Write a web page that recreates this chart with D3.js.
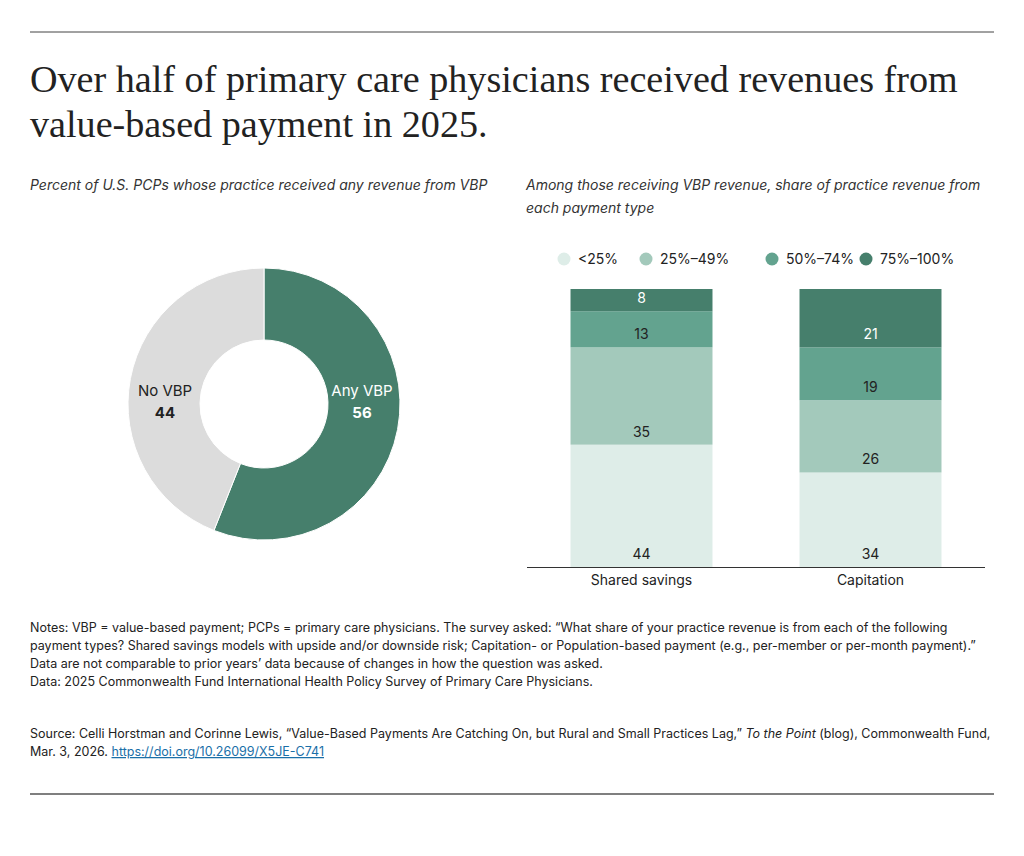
<!DOCTYPE html><html><head><meta charset="utf-8">
<script src="https://cdn.jsdelivr.net/npm/d3@7"></script>
<style>body{margin:0;background:#fff}text{font-family:Inter,"Open Sans",sans-serif}text.serif{font-family:"Liberation Serif","DejaVu Serif",serif}</style></head><body>
<svg id="c" width="1024" height="856"></svg>
<script>
const donutLabels=["Any VBP","No VBP"];
const donutValues=[56,44];
const barCategories=["Shared savings","Capitation"];
const seriesNames=["<25%","25%–49%","50%–74%","75%–100%"];
const sharedSavings=[44,35,13,8];
const capitation=[34,26,19,21];
const colors=["#deede8","#a3c9bb","#63a38f","#467f6c"];
const svg=d3.select("#c");
svg.append("line").attr("x1",30).attr("x2",994).attr("y1",32).attr("y2",32).attr("stroke","#444");
svg.append("line").attr("x1",30).attr("x2",994).attr("y1",794).attr("y2",794).attr("stroke","#555").attr("stroke-width",1.5);
const t=svg.append("text").attr("class","serif").attr("font-size",37).attr("fill","#222");
const t1=t.append("tspan").attr("x",30).attr("y",92).text("Over half of primary care physicians received revenues from");
t.append("tspan").attr("x",30).attr("y",137).text("value-based payment in 2025.");
const w=t1.node().getComputedTextLength(); t.attr("font-size",37*928/w);
const it=(x,y,s)=>svg.append("text").attr("x",x).attr("y",y).attr("font-size",14).attr("font-style","italic").attr("fill","#333").text(s);
it(30,190,"Percent of U.S. PCPs whose practice received any revenue from VBP");
it(526,190,"Among those receiving VBP revenue, share of practice revenue from");
it(526,213,"each payment type");
const g=svg.append("g").attr("transform","translate(264,404)");
const pie=d3.pie().sort(null)(donutValues);
const arc=d3.arc().innerRadius(64).outerRadius(136);
g.selectAll("path").data(pie).join("path").attr("d",arc).attr("fill",(d,i)=>i?"#dcdcdc":"#467f6c").attr("stroke","#fff").attr("stroke-width",1);
const lab=[["#fff",98],["#222",-99]];
pie.forEach((d,i)=>{const [c,x]=lab[i];
 g.append("text").attr("x",x).attr("y",-8).attr("text-anchor","middle").attr("font-size",15).attr("fill",c).text(donutLabels[i]);
 g.append("text").attr("x",x).attr("y",14).attr("text-anchor","middle").attr("font-size",15).attr("font-weight","bold").attr("fill",c).text(donutValues[i]);});
const x=d3.scaleBand().domain(barCategories).range([527,985]).paddingInner(0.38).paddingOuter(0.19);
const y=d3.scaleLinear().domain([0,100]).range([567,289]);
const data=[sharedSavings,capitation];
data.forEach((vals,ci)=>{let acc=0;vals.forEach((v,si)=>{const y0=acc,y1=acc+v;acc=y1;
 svg.append("rect").attr("x",x(barCategories[ci])).attr("width",x.bandwidth()).attr("y",y(y1)).attr("height",y(y0)-y(y1)).attr("fill",colors[si]);
 svg.append("text").attr("x",x(barCategories[ci])+x.bandwidth()/2).attr("y",y(y0)-8).attr("text-anchor","middle").attr("font-size",14).attr("fill",si==3?"#fff":"#222").text(v);});});
svg.append("line").attr("x1",527).attr("x2",985).attr("y1",567.5).attr("y2",567.5).attr("stroke","#333");
barCategories.forEach(c=>svg.append("text").attr("x",x(c)+x.bandwidth()/2).attr("y",585).attr("text-anchor","middle").attr("font-size",14).attr("fill","#222").text(c));
const lx=[564,646,772,866];
seriesNames.forEach((s,i)=>{svg.append("circle").attr("cx",lx[i]).attr("cy",259).attr("r",6.5).attr("fill",colors[i]);
 svg.append("text").attr("x",lx[i]+14).attr("y",264).attr("font-size",14).attr("fill","#222").text(s);});
const notes=["Notes: VBP = value-based payment; PCPs = primary care physicians. The survey asked: “What share of your practice revenue is from each of the following","payment types? Shared savings models with upside and/or downside risk; Capitation- or Population-based payment (e.g., per-member or per-month payment).”","Data are not comparable to prior years’ data because of changes in how the question was asked.","Data: 2025 Commonwealth Fund International Health Policy Survey of Primary Care Physicians."];
notes.forEach((n,i)=>svg.append("text").attr("x",30).attr("y",632+i*18).attr("font-size",12.5).attr("fill","#222").text(n));
const s1=svg.append("text").attr("x",30).attr("y",738).attr("font-size",12.5).attr("fill","#222");
s1.append("tspan").text("Source: Celli Horstman and Corinne Lewis, “Value-Based Payments Are Catching On, but Rural and Small Practices Lag,” ");
s1.append("tspan").attr("font-style","italic").text("To the Point");
s1.append("tspan").text(" (blog), Commonwealth Fund,");
const s2=svg.append("text").attr("x",30).attr("y",756).attr("font-size",12.5).attr("fill","#222");
s2.append("tspan").text("Mar. 3, 2026. ");
s2.append("tspan").attr("fill","#1a6fa8").attr("text-decoration","underline").text("https://doi.org/10.26099/X5JE-C741");
</script></body></html>
